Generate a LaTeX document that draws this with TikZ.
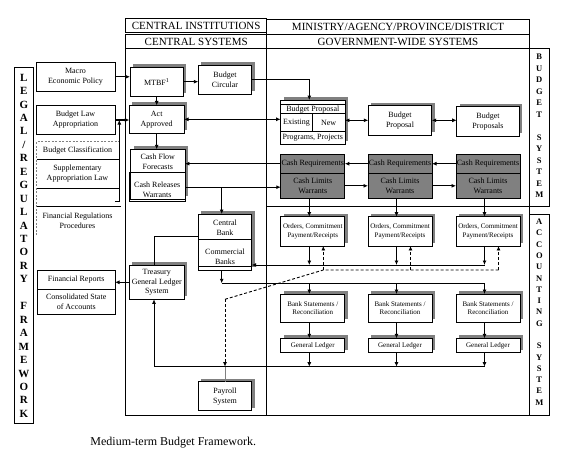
\documentclass[tikz,border=0pt]{standalone}
\usepackage{fontspec}
\setmainfont{Liberation Serif}
\usetikzlibrary{shadows,arrows.meta,calc}
\begin{document}
\begin{tikzpicture}[x=1pt,y=-1pt,
  frm/.style={draw,line width=0.8pt},
  bx/.style={draw,line width=0.8pt,fill=white,inner sep=0pt,outer sep=0pt,align=center,font=\fontsize{8}{10}\selectfont},
  sh/.style={drop shadow={shadow xshift=3pt,shadow yshift=3pt,fill=black!50,opacity=1}},
  gbx/.style={bx,fill=black!50},
  sfont/.style={font=\fontsize{7}{8.3}\selectfont},
  txt/.style={align=center,inner sep=0pt,font=\fontsize{8}{10}\selectfont},
  hdr/.style={inner sep=0pt,text height=7.3pt,text depth=0pt,font=\fontsize{11}{13}\selectfont},
  ahead/.style={-{Latex[length=4.5pt,width=4pt]}},
  arr/.style={line width=1.2pt,ahead},
  darr/.style={line width=1.2pt,{Latex[length=4.5pt,width=4pt]}-{Latex[length=4.5pt,width=4pt]}},
  ln8/.style={line width=0.8pt},
  dsh/.style={line width=0.9pt,dash pattern=on 3pt off 2pt},
  vlet/.style={inner sep=0pt,anchor=base,font=\bfseries\fontsize{11}{13}\selectfont},
  slet/.style={inner sep=0pt,anchor=base,font=\bfseries\fontsize{8.5}{10}\selectfont}
]
\useasboundingbox (0,0) rectangle (567,456);

% ---------- frames ----------
\node[frm,minimum width=19pt,minimum height=356pt,inner sep=0pt] (legal) at (23.8,245.3) {};
\foreach \c [count=\i from 0] in {L,E,G,A,L,/,R,E,G,U,L,A,T,O,R,Y,{},F,R,A,M,E,W,O,R,K}
  \node[vlet] (lg\i) at (23.8,{81.1+\i*13.45}) {\c};

\draw[frm] (125.7,34) rectangle (266.7,415);
\draw[frm] (125.7,48.3) -- (266.7,48.3);
\node[frm,hdr,minimum width=141pt,minimum height=14pt] (ci) at (196.2,25.7) {CENTRAL INSTITUTIONS};
\node[hdr] (cs) at (196.2,41.7) {CENTRAL SYSTEMS};

\draw[frm] (266.7,19.3) rectangle (529.3,415);
\draw[frm] (266.7,34) -- (529.3,34);
\draw[frm] (266.7,48.3) -- (529.3,48.3);
\draw[frm] (266.7,206.7) -- (529.3,206.7);
\node[hdr] (min) at (398,26.7) {MINISTRY/AGENCY/PROVINCE/DISTRICT};
\node[hdr] (gws) at (398,41.7) {GOVERNMENT-WIDE SYSTEMS};

\draw[frm] (529.3,48.3) rectangle (549.3,206.7);
\draw[frm] (529.3,214) rectangle (549.3,415);
\foreach \c [count=\i from 0] in {B,U,D,G,E,T,{},S,Y,S,T,E,M}
  \node[slet] (bs-l\i) at (539.3,{59.6+\i*11.53}) {\c};
\foreach \c [count=\i from 0] in {A,C,C,O,U,N,T,I,N,G,{},S,Y,S,T,E,M}
  \node[slet] (ac-l\i) at (539.3,{224.6+\i*11.29}) {\c};

% ---------- legal side ----------
\node[bx,line width=1pt,minimum width=79pt,minimum height=29pt] (macro) at (75.5,76.8) {Macro\\Economic Policy};
\node[bx,line width=1pt,minimum width=79pt,minimum height=28.6pt] (law) at (75.5,120) {Budget Law\\Appropriation};
\draw[gray,line width=0.6pt,dash pattern=on 2pt off 1.5pt] (36.5,235) -- (36.5,141.7) -- (119.3,141.7) -- (119.3,159.3);
\draw[ln8] (36.5,159.3) -- (119.3,159.3);
\draw[ln8] (36.5,188.3) -- (119.3,188.3);
\draw[ln8] (36.5,206.7) -- (120.7,206.7);
\draw[gray,line width=0.8pt] (119.3,159.3) -- (119.3,201.7);
\node[txt] (bcl) at (77.5,150.5) {Budget Classification};
\node[txt] (sal) at (77.5,173.3) {Supplementary\\Appropriation Law};
\node[txt] (frp) at (77.5,220.5) {Financial Regulations\\Procedures};

\node[bx,minimum width=77.7pt,minimum height=43.7pt] (finrep) at (76.2,292.2) {};
\draw[ln8] (37.3,289.3) -- (115,289.3);
\node[txt] (frt) at (76.2,279.8) {Financial Reports};
\node[txt] (csa) at (76.2,301.8) {Consolidated State\\of Accounts};

% ---------- central systems ----------
\node[bx,sh,minimum width=53.3pt,minimum height=28.7pt] (mtbf) at (156.7,81.7) {MTBF\textsuperscript{1}};
\node[bx,sh,minimum width=53.4pt,minimum height=29.3pt] (circ) at (225,79.7) {Budget\\Circular};
\node[bx,sh,minimum width=54.7pt,minimum height=27.7pt] (act) at (156.7,119.3) {Act\\Approved};
\node[bx,sh,minimum width=54.3pt,minimum height=50pt] (cffbox) at (157.8,174.3) {};
\node[txt] (cff) at (157.8,161.7) {Cash Flow\\Forecasts};
\node[bx,fill=none,minimum width=55.7pt,minimum height=29pt] (crw) at (157.2,187.2) {};
\node[txt] (crwt) at (157.2,189.5) {Cash Releases\\Warrants};

\node[bx,sh,minimum width=53.4pt,minimum height=56pt] (cb) at (225,242) {};
\draw[ln8] (198.3,239.3) -- (251.7,239.3);
\draw[ln8] (198.3,266) -- (251.7,266);
\node[txt] (cbk) at (225,228) {Central\\Bank};
\node[txt] (cmb) at (225,257.2) {Commercial\\Banks};

\node[bx,sh,minimum width=55pt,minimum height=34pt,font=\fontsize{8}{9.3}\selectfont] (tgl) at (156.8,282.3) {Treasury\\General Ledger\\System};
\node[bx,sh,minimum width=53.4pt,minimum height=29pt] (pay) at (225,396.2) {Payroll\\System};

% ---------- ministry ----------
\node[bx,sh,minimum width=64.3pt,minimum height=44.3pt] (bp1) at (312.8,122.2) {};
\draw[ln8] (280.7,104.7) -- (345,104.7);
\draw[ln8] (280.7,113.3) -- (345,113.3);
\draw[ln8] (280.7,131.7) -- (345,131.7);
\draw[ln8] (312.3,113.3) -- (312.3,131.7);
\node[txt] (bpt) at (312.8,109.2) {Budget Proposal};
\node[txt] (bpe) at (296.5,122.5) {Existing};
\node[txt] (bpn) at (328.7,122.5) {New};
\node[txt] (bpp) at (312.8,138) {Programs, Projects};

\node[bx,sh,minimum width=63.4pt,minimum height=29.3pt] (bp2) at (400,120.3) {Budget\\Proposal};
\node[bx,sh,minimum width=62.6pt,minimum height=29.3pt] (bp3) at (488,121.3) {Budget\\Proposals};

\foreach \k/\cx in {1/312.8,2/400,3/488} {
  \node[gbx,minimum width=64pt,minimum height=19.3pt] (cr\k) at (\cx,163.7) {Cash Requirements};
  \node[gbx,minimum width=64pt,minimum height=25pt] (cl\k) at (\cx,185.8) {Cash Limits\\Warrants};
  \node[bx,sh,sfont,minimum width=64pt,minimum height=29.3pt] (ord\k) at (\cx,231.3) {Orders, Commitment\\Payment/Receipts};
  \node[bx,sh,sfont,minimum width=64pt,minimum height=28pt] (bs\k) at (\cx,308) {Bank Statements /\\Reconciliation};
  \node[bx,sh,sfont,minimum width=64pt,minimum height=14.4pt] (gl\k) at (\cx,345.5) {General Ledger};
}

% ---------- connectors ----------
\draw[arr] (macro.east) -- (macro.east -| mtbf.west);
\draw[arr] (mtbf.east) -- (mtbf.east -| circ.west);
\draw[arr] (mtbf.south) -- (mtbf.south |- act.north);
\draw[arr] (act.south) -- (act.south |- cffbox.north);
\coordinate (bpin) at ([xshift=-3.5pt]bp1.north);
\draw[arr] (circ.east) -| (bpin);
\draw[arr] (law.east) -- (law.east -| act.west);
\coordinate (brk) at (119.3,201.7);
\draw[ln8,ahead] (115,201.7) -- (brk) -- (brk |- law.east);
\draw[darr] (act.east) -- (act.east -| bp1.west);
\draw[darr] (bp2.west -| bp1.east) -- (bp2.west);
\draw[darr] (bp2.east) -- (bp2.east -| bp3.west);

\draw[arr] (cr3.west) -- (cr2.east);
\draw[arr] (cr2.west) -- (cr1.east);
\draw[arr] (cr1.west) -- (cr1.west -| cffbox.east);
\draw[arr] (crw.east) -- (crw.east -| cl1.west);
\draw[arr] (cl1.east) -- (cl2.west);
\draw[arr] (cl2.east) -- (cl3.west);
\coordinate (cbn) at ([xshift=-3.3pt]cb.north);
\draw[arr] (cbn |- crw.east) -- (cbn);

\coordinate (cbw) at ([yshift=5.3pt]cb.west);
\coordinate (tgn) at ([xshift=-2.5pt]tgl.north);
\draw[ln8] (cbw) -| (tgn);
\draw[arr] (tgl.west) -- (tgl.west -| finrep.east);

\coordinate (colr) at (484.5,265);
\coordinate (bsl) at (221.7,283.3);
\coordinate (gll) at (154,366.7);
\coordinate (cbs) at ([xshift=-3.3pt]cb.south);
\foreach \k in {1,2,3} {
  \coordinate (clb\k) at ([xshift=-3.5pt]cl\k.south);
  \draw[arr] (clb\k) -- (clb\k |- ord\k.north);
  \coordinate (ob\k) at ([xshift=-3.5pt]ord\k.south);
  \draw[arr] (ob\k) -- (ob\k |- colr);
  \coordinate (bst\k) at ([xshift=-3.5pt]bs\k.north);
  \draw[arr] (bst\k |- bsl) -- (bst\k);
  \draw[arr] ([xshift=-3.5pt]bs\k.south) -- ([xshift=-3.5pt]gl\k.north);
  \coordinate (glb\k) at ([xshift=-3.5pt]gl\k.south);
  \draw[arr] (glb\k) -- (glb\k |- gll);
  \coordinate (du\k) at ([xshift=10.5pt]ord\k.south);
}
\draw[ln8,ahead] (colr) -- (colr -| cb.east);
\draw[arr] (cbs) -- (bsl);
\draw[ln8] (bsl) -- (bsl -| colr);
\coordinate (tgs) at ([xshift=-2.8pt]tgl.south);
\draw[ln8,ahead] (gll -| colr) -- (gll) -- (tgs);

% dashed payroll links
\coordinate (d0) at (225,366.7);
\coordinate (d1) at (225,299.3);
\coordinate (d2) at (323.3,270);
\draw[dsh] (d1) -- (d2) -- (d2 -| du3);
\draw[dsh,ahead] (d1) -- (d0);
\foreach \k in {1,2,3} \draw[dsh,ahead] (du\k |- d2) -- (du\k);
\draw[gray,line width=0.8pt] (pay.north) -- (d0);

% caption
\node[inner sep=0pt,anchor=base,font=\fontsize{12}{14}\selectfont] (cap) at (173.3,445) {Medium-term Budget Framework.};
\end{tikzpicture}
\end{document}
